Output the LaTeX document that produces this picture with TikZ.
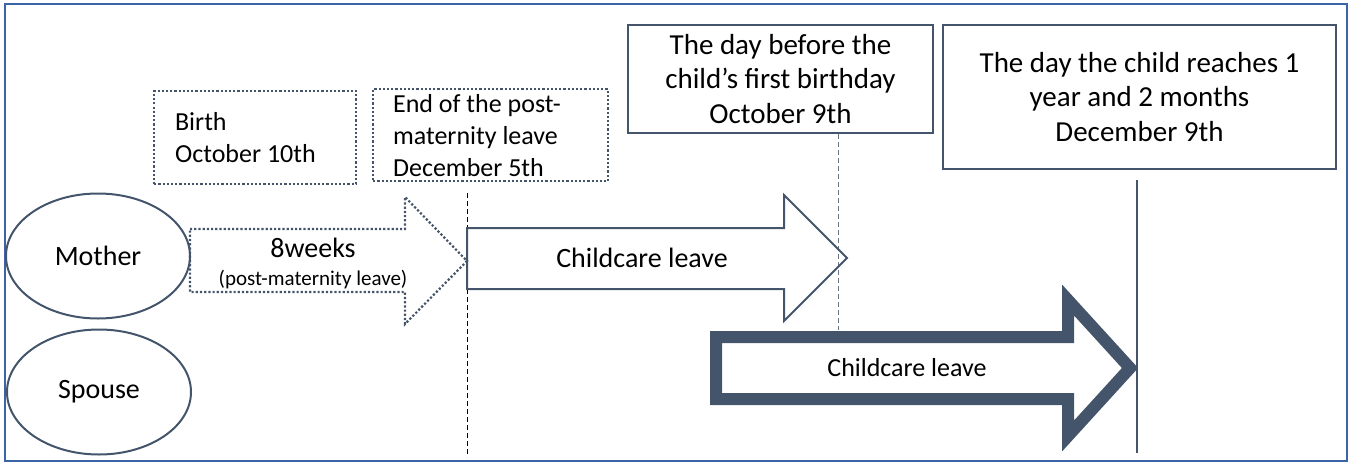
\documentclass[tikz,border=0pt]{standalone}
\usepackage{fontspec}
\setmainfont{Carlito}
\usetikzlibrary{shapes.geometric}
\definecolor{slate}{HTML}{44546A}
\definecolor{frameblue}{HTML}{3A63A8}
\tikzset{
	datebox/.style={draw=slate, line width=2pt, inner sep=0pt, anchor=north west, align=center, font=\fontsize{29}{34.5}\selectfont},
	dotbox/.style={draw=slate, line width=2.2pt, dash pattern=on 2.2pt off 2pt, inner ysep=0pt, anchor=north west, align=flush left, font=\fontsize{26}{32}\selectfont},
	person/.style={draw=slate, ellipse, line width=2pt, minimum width=184pt, minimum height=125pt, font=\fontsize{28}{32}\selectfont},
	leavebar/.style={draw=slate, line width=2pt, line join=miter},
	leavetext/.style={font=\fontsize{28}{34}\selectfont}
}
\begin{document}
\begin{tikzpicture}[x=1pt,y=-1pt]
	\useasboundingbox (0,0) rectangle (1351,463);
	\draw[frameblue, line width=2pt] (5,4) rectangle (1347,461);

	\node[person] (mother) at (98,256) {Mother};
	\node[person] (spouse) at (99,392) {Spouse};

	\node[dotbox, text width=160pt, inner xsep=21pt, minimum height=93pt] (birth) at (153,90) {Birth\\October 10th};
	\node[dotbox, text width=195pt, inner xsep=20pt, minimum height=92pt] (endmat) at (372,88) {End of the post-\\maternity leave\\December 5th};
	\node[datebox, minimum width=305pt, minimum height=108pt] (daybefore) at (627,24) {The day before the\\child’s first birthday\\October 9th};
	\node[datebox, minimum width=393pt, minimum height=144pt] (onetwo) at (942,24) {The day the child reaches 1\\year and 2 months\\December 9th};

	\coordinate (endtop) at (467,193);
	\coordinate (endbot) at (467,457);
	\coordinate (bdbot) at (838,330);
	\coordinate (ottop) at (1137,180);
	\coordinate (otbot) at (1137,453);
	\draw[black, line width=1pt, dash pattern=on 5pt off 3pt] (endtop) -- (endbot);
	\draw[slate!80, line width=1pt, dash pattern=on 5pt off 3pt] (bdbot |- daybefore.south) -- (bdbot);
	\draw[slate, line width=1.5pt] (ottop) -- (otbot);

	\draw[leavebar, line width=2.2pt, dash pattern=on 2.2pt off 2pt] (190,229) -- (405,229) -- (405,197) -- (467,261) -- (405,324) -- (405,292) -- (190,292) -- cycle;
	\node[leavetext] (weeks) at (313,248) {8weeks};
	\node[font=\fontsize{21}{24}\selectfont] (postmat) at (313,280) {(post-maternity leave)};

	\draw[leavebar] (467,228) -- (784,228) -- (784,195) -- (847,258) -- (784,321) -- (784,289) -- (467,289) -- cycle;
	\node[leavetext] (momleave) at (642,258) {Childcare leave};

	\draw[leavebar, line width=12pt] (716,337) -- (1068,337) -- (1068,300) -- (1130,368) -- (1068,436) -- (1068,399) -- (716,399) -- cycle;
	\node[font=\fontsize{26}{30}\selectfont] (spouseleave) at (907,368) {Childcare leave};
\end{tikzpicture}
\end{document}
